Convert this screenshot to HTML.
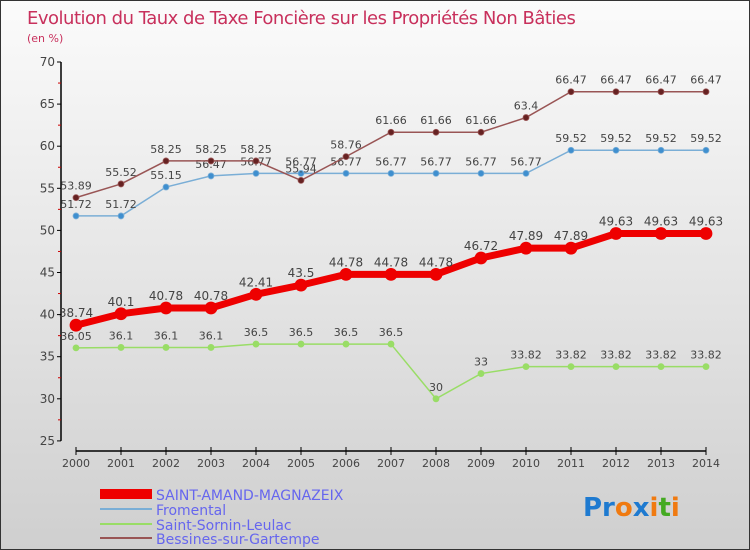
<!DOCTYPE html>
<html><head><meta charset="utf-8"><style>
body{margin:0;}
#c{width:748px;height:548px;border:1px solid #333;background:linear-gradient(#fbfbfb,#cfcfcf);position:relative;font-family:"DejaVu Sans","Liberation Sans",sans-serif;overflow:hidden}
svg text{font-family:"DejaVu Sans","Liberation Sans",sans-serif}
</style></head><body>
<div id="c">
<svg width="748" height="548">
<text x="26" y="23" font-size="18" fill="#c8305c" style="letter-spacing:-0.5px">Evolution du Taux de Taxe Foncière sur les Propriétés Non Bâties</text>
<text x="26" y="41" font-size="11" fill="#c8305c">(en %)</text>
<g id="axes"></g><g id="series"></g>
<g>
<rect x="99" y="488" width="52" height="10" fill="#e00"/>
<text x="155" y="499" font-size="14" fill="#6666ee">SAINT-AMAND-MAGNAZEIX</text>
<line x1="99" y1="508" x2="151" y2="508" stroke="#7aaed6" stroke-width="2"/>
<text x="155" y="514" font-size="14" fill="#6666ee">Fromental</text>
<line x1="99" y1="523" x2="151" y2="523" stroke="#99dd66" stroke-width="2"/>
<text x="155" y="529" font-size="14" fill="#6666ee">Saint-Sornin-Leulac</text>
<line x1="99" y1="537" x2="151" y2="537" stroke="#995555" stroke-width="2"/>
<text x="155" y="543" font-size="14" fill="#6666ee">Bessines-sur-Gartempe</text>
</g>
<text x="582" y="515" font-size="26" font-weight="bold"><tspan fill="#1e7ad0">Pr</tspan><tspan fill="#f07a10">o</tspan><tspan fill="#1e7ad0">x</tspan><tspan fill="#f07a10">i</tspan><tspan fill="#44aa22">t</tspan><tspan fill="#f07a10">i</tspan></text>
</svg></div>
<script>
const years=[2000,2001,2002,2003,2004,2005,2006,2007,2008,2009,2010,2011,2012,2013,2014];
const yTicks=[25,30,35,40,45,50,55,60,65,70];
const saintAmand=[38.74,40.1,40.78,40.78,42.41,43.5,44.78,44.78,44.78,46.72,47.89,47.89,49.63,49.63,49.63];
const fromental=[51.72,51.72,55.15,56.47,56.77,56.77,56.77,56.77,56.77,56.77,56.77,59.52,59.52,59.52,59.52];
const sornin=[36.05,36.1,36.1,36.1,36.5,36.5,36.5,36.5,30,33,33.82,33.82,33.82,33.82,33.82];
const bessines=[53.89,55.52,58.25,58.25,58.25,55.94,58.76,61.66,61.66,61.66,63.4,66.47,66.47,66.47,66.47];
const NS="http://www.w3.org/2000/svg";
const X=i=>75+i*(630/14), Y=v=>61+(70-v)*8.42;
function mk(t,a,p){const e=document.createElementNS(NS,t);for(const k in a)e.setAttribute(k,a[k]);p.appendChild(e);return e;}
const ax=document.getElementById('axes'), se=document.getElementById('series');
const ya=mk('line',{x1:60,y1:61,x2:60,y2:Y(25),stroke:'#000','stroke-width':1.5},ax);


yTicks.forEach(v=>{const y=Y(v);
 mk('line',{x1:56,y1:y,x2:60,y2:y,stroke:'#000'},ax);
 if(v<70)mk('line',{x1:57,y1:Y(v+2.5),x2:60,y2:Y(v+2.5),stroke:'#c00'},ax);
 const t=mk('text',{x:54,y:y+4,'font-size':12,fill:'#444','text-anchor':'end'},ax);t.textContent=v;
 
 });
const xa=mk('line',{x1:X(0),y1:450,x2:X(14),y2:450,stroke:'#000','stroke-width':1.5},ax);


years.forEach((yr,i)=>{mk('line',{x1:X(i),y1:446,x2:X(i),y2:454,stroke:'#000'},ax);
 const t=mk('text',{x:X(i),y:466,'font-size':11,fill:'#444','text-anchor':'middle'},ax);t.textContent=yr;
 
 });
function series(d,name,col,dot,w,r,lab){
 const g=mk('g',{},se);
 
 
 mk('polyline',{points:d.map((v,i)=>X(i)+','+Y(v)).join(' '),fill:'none',stroke:col,'stroke-width':w},g);
 d.forEach((v,i)=>{const c=mk('circle',{cx:X(i),cy:Y(v),r:r,fill:dot,stroke:col,'stroke-width':0.8},g);
  
  
  const t=mk('text',{x:X(i),y:Y(v)-8,'font-size':lab,fill:'#444','text-anchor':'middle'},g);t.textContent=v;
  
  });
}
series(sornin,'series-saint-sornin','#99dd66','#99dd66',1.5,3,11);
series(fromental,'series-fromental','#7aaed6','#3f8fcf',1.5,3,11);
series(bessines,'series-bessines','#995555','#662222',1.5,3,11);
series(saintAmand,'series-saint-amand','#ee0000','#ee0000',7,6,12);
</script>
</body></html>
